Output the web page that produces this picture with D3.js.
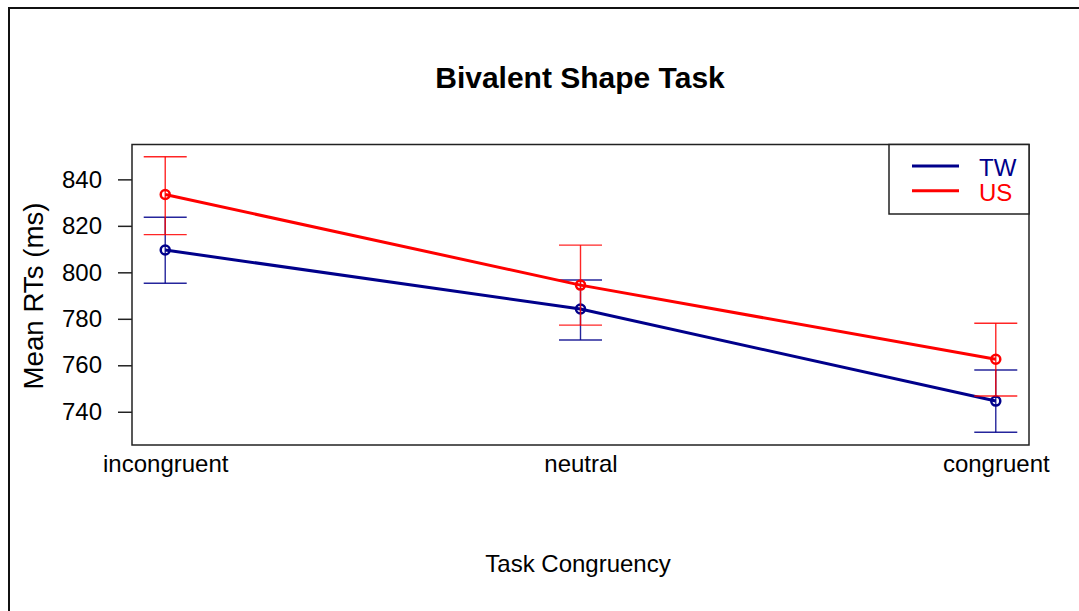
<!DOCTYPE html>
<html>
<head>
<meta charset="utf-8">
<script src="https://cdn.jsdelivr.net/npm/d3@7"></script>
<style>
  html, body { margin: 0; padding: 0; background: #fff; }
  svg { display: block; }
  text { font-family: "Liberation Sans", Arial, sans-serif; fill: #000; }
</style>
</head>
<body>
<svg id="chart" width="1079" height="611"></svg>
<script>
// ---- data ----
const categories = ["incongruent", "neutral", "congruent"];
const seriesNames = ["TW", "US"];
const seriesColors = ["#00008B", "#FF0000"];
const twMean  = [809.6, 784.2, 744.6];
const twLower = [795.3, 770.9, 731.2];
const twUpper = [823.7, 796.7, 758.0];
const usMean  = [833.5, 794.5, 762.6];
const usLower = [816.2, 777.3, 746.8];
const usUpper = [849.7, 811.7, 778.1];
const yTicks = [740, 760, 780, 800, 820, 840];
const yDomain = [725.7, 855.0];
const titleText = "Bivalent Shape Task";
const xLabel = "Task Congruency";
const yLabel = "Mean RTs (ms)";

const series = [
  { name: seriesNames[0], color: seriesColors[0], mean: twMean, lo: twLower, hi: twUpper },
  { name: seriesNames[1], color: seriesColors[1], mean: usMean, lo: usLower, hi: usUpper }
];

const svg = d3.select("#chart");
const plot = { left: 132, right: 1029, top: 144.5, bottom: 445 };

// outer frame
svg.append("rect").attr("x", 9).attr("y", 8).attr("width", 1100).attr("height", 640)
  .attr("fill", "none").attr("stroke", "#111").attr("stroke-width", 2);

const x = d3.scalePoint().domain(categories).range([plot.left, plot.right]).padding(0.08);
const y = d3.scaleLinear().domain(yDomain).range([plot.bottom, plot.top]);

// y axis
const yAxis = svg.append("g").attr("transform", `translate(${plot.left},0)`)
  .call(d3.axisLeft(y).tickValues(yTicks).tickSize(14).tickPadding(16).tickFormat(d3.format("d")));
yAxis.select(".domain").remove();
yAxis.selectAll("line").attr("stroke", "#222").attr("stroke-width", 1.5);
yAxis.selectAll("text").attr("font-size", 24).attr("font-family", "Liberation Sans, Arial, sans-serif").attr("fill", "#000");

// x axis
const xAxis = svg.append("g").attr("transform", `translate(0,${plot.bottom})`)
  .call(d3.axisBottom(x).tickSize(0).tickPadding(10));
xAxis.select(".domain").remove();
xAxis.selectAll("text").attr("font-size", 24).attr("font-family", "Liberation Sans, Arial, sans-serif").attr("fill", "#000");

// plot box
svg.append("rect").attr("x", plot.left).attr("y", plot.top)
  .attr("width", plot.right - plot.left).attr("height", plot.bottom - plot.top)
  .attr("fill", "none").attr("stroke", "#222").attr("stroke-width", 1.5);

const capHalf = 21.5;
const line = d3.line().x((d, i) => x(categories[i])).y(d => y(d));

series.forEach(s => {
  const g = svg.append("g");
  // error bars
  categories.forEach((c, i) => {
    const cx = x(c);
    g.append("line").attr("x1", cx).attr("x2", cx).attr("y1", y(s.lo[i])).attr("y2", y(s.hi[i]))
      .attr("stroke", s.color).attr("stroke-width", 1.4).attr("opacity", 0.85);
    [s.lo[i], s.hi[i]].forEach(v => {
      g.append("line").attr("x1", cx - capHalf).attr("x2", cx + capHalf).attr("y1", y(v)).attr("y2", y(v))
        .attr("stroke", s.color).attr("stroke-width", 1.4).attr("opacity", 0.85);
    });
  });
  // line
  g.append("path").attr("d", line(s.mean)).attr("fill", "none")
    .attr("stroke", s.color).attr("stroke-width", 3);
  // points
  g.selectAll("circle").data(s.mean).join("circle")
    .attr("cx", (d, i) => x(categories[i])).attr("cy", d => y(d)).attr("r", 4.5)
    .attr("fill", "none").attr("stroke", s.color).attr("stroke-width", 2.5);
});

// legend
const lg = svg.append("g");
lg.append("rect").attr("x", 889).attr("y", plot.top).attr("width", plot.right - 889).attr("height", 69.5)
  .attr("fill", "#fff").attr("stroke", "#222").attr("stroke-width", 1.5);
series.forEach((s, i) => {
  const ly = 166 + i * 24.7;
  lg.append("line").attr("x1", 912).attr("x2", 959).attr("y1", ly).attr("y2", ly)
    .attr("stroke", s.color).attr("stroke-width", 3);
  lg.append("text").attr("x", 979).attr("y", ly + 10).attr("font-size", 24)
    .style("fill", s.color).text(s.name);
});

// title and axis labels
svg.append("text").attr("x", 580).attr("y", 88).attr("text-anchor", "middle")
  .attr("font-size", 30).attr("font-weight", "bold").text(titleText);
svg.append("text").attr("x", 578).attr("y", 572).attr("text-anchor", "middle")
  .attr("font-size", 24).text(xLabel);
svg.append("text").attr("transform", "translate(42.5,296) rotate(-90)").attr("text-anchor", "middle")
  .attr("font-size", 27).attr("textLength", 187).attr("lengthAdjust", "spacingAndGlyphs").text(yLabel);
</script>
</body>
</html>
